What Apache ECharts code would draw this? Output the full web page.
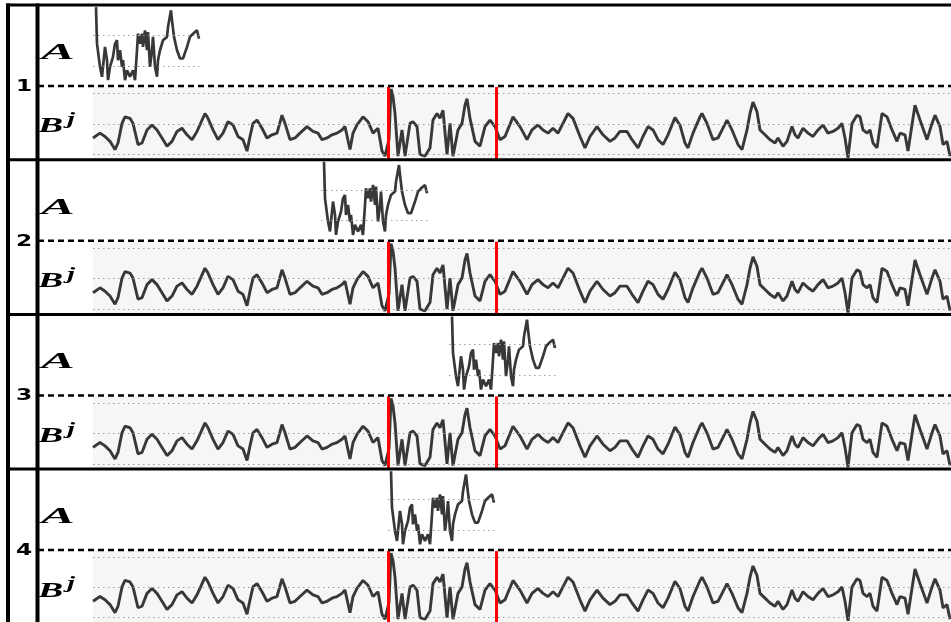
<!DOCTYPE html>
<html><head><meta charset="utf-8">
<script src="https://cdn.jsdelivr.net/npm/echarts@6/dist/echarts.min.js"></script>
<style>html,body{margin:0;padding:0;background:#fff;overflow:hidden}#c{width:951px;height:622px}</style>
</head><body><div id="c"></div>
<script>
// ---- data ----
const rowLabels = ['1', '2', '3', '4'];
const matchStart = [3, 231, 359, 298];      // where query A is placed along B (time index)
const matchWindow = [295.5, 403.5];         // red window on B^j
const bGuides = [-2, 0, 2];
const aGuides = [-1, 1];
const seriesLength = 858;
const queryLength = 104;

const bSeries = [
[0,-0.92],[7,-0.60],[12,-0.82],[17,-1.14],[22,-1.68],[25,-1.25],[29,0.04],[32,0.47],[37,0.37],[40,0.04],
[45,-1.35],[49,-1.25],[54,-0.39],[59,-0.06],[64,-0.39],[69,-0.92],[74,-1.46],[79,-1.14],[84,-0.49],[89,-0.28],
[94,-0.71],[99,-1.03],[104,-0.49],[112,0.69],[115,0.37],[120,-0.39],[125,-1.03],[130,-0.60],[135,0.15],[140,-0.06],
[145,-0.82],[150,-1.03],[154,-1.78],[157,-0.82],[160,0.04],[164,0.26],[169,-0.28],[174,-0.92],[179,-0.71],[184,-0.60],
[189,0.58],[192,0.04],[197,-1.03],[202,-0.92],[207,-0.60],[214,-0.17],[220,-0.49],[225,-0.60],[229,-1.03],[234,-0.92],
[239,-0.71],[244,-0.60],[249,-0.39],[252,-0.17],[257,-1.68],[260,-0.60],[264,-0.06],[270,0.47],[275,0.15],[280,-0.60],
[285,-0.28],[289,-1.78],[292,-2.11],[296,-1.00],[298,2.30],[300,1.80],[302,0.69],[305,-2.11],[309,-0.39],[312,-2.11],
[317,0.04],[320,0.15],[324,-0.17],[327,-2.00],[332,-2.11],[337,-1.57],[340,0.26],[344,0.69],[347,0.37],[350,0.90],
[354,-2.00],[357,0.04],[360,-2.11],[365,-0.39],[369,0.04],[372,1.23],[374,1.66],[377,0.37],[382,-1.14],[387,-1.46],
[392,-0.17],[397,0.26],[402,-0.17],[407,-1.03],[412,-0.82],[420,0.47],[427,-0.17],[434,-1.03],[439,-0.39],[445,-0.06],
[450,-0.39],[455,-0.60],[460,-0.28],[465,-0.60],[475,0.69],[480,0.37],[487,-0.82],[492,-1.57],[497,-0.82],[504,-0.17],
[510,-0.71],[517,-1.14],[522,-0.92],[527,-0.49],[534,-0.49],[539,-1.03],[545,-1.57],[550,-0.82],[555,-0.17],[560,-0.39],
[565,-1.03],[570,-1.35],[575,-0.71],[582,0.42],[587,-0.08],[592,-1.25],[595,-1.57],[600,-0.60],[607,0.47],[609,0.69],
[614,0.04],[620,-1.03],[625,-0.92],[634,0.26],[639,-0.39],[645,-1.35],[649,-1.68],[654,-0.39],[657,0.69],[660,1.44],
[664,0.80],[667,-0.39],[672,-0.71],[677,-1.03],[682,-1.25],[685,-0.92],[690,-1.46],[694,-1.14],[699,-0.17],[702,-0.71],
[705,-0.92],[710,-0.28],[715,-0.60],[720,-0.82],[725,-0.39],[730,-0.06],[735,-0.60],[740,-0.49],[745,-0.28],[749,0.04],
[752,-0.92],[755,-2.22],[759,0.04],[764,0.58],[767,0.47],[770,-0.39],[774,-0.60],[777,-0.39],[780,-1.25],[784,-1.57],
[789,0.69],[794,0.47],[799,-0.39],[804,-1.14],[807,-0.60],[812,-0.71],[815,-1.78],[822,1.23],[827,0.26],[834,-1.03],
[839,0.04],[842,0.58],[847,-0.17],[850,-1.35],[854,-1.14],[857,-2.11]
];

const aQuery = [
[0,2.83],[1,0.45],[4,-1.06],[6,-1.71],[7,-1.06],[9,0.24],[11,-0.63],[12,-1.93],[14,-1.06],[17,-0.41],
[19,0.45],[21,0.67],[22,-0.63],[24,0.02],[26,-1.06],[27,-0.63],[29,-1.93],[31,-1.28],[34,-1.71],[37,-1.28],
[39,-1.93],[41,0.02],[42,1.10],[44,0.45],[46,1.10],[47,0.24],[49,1.32],[51,0.02],[52,1.21],[54,-1.06],
[56,0.02],[57,0.89],[59,-1.06],[61,-1.71],[62,-0.63],[64,0.02],[67,0.67],[71,0.89],[72,1.53],[75,2.62],
[76,1.97],[78,0.89],[81,0.02],[84,-0.52],[87,-0.52],[91,0.24],[94,0.89],[97,1.10],[101,1.32],[103,0.78]
];

// ---- layout ----
const W = 951, rowTop0 = 5, rowStep = 154.7, plotLeft = 93;
const lineColor = '#383838';
const guideStyle = { color: '#9c9c9c', width: 1, type: [1.5, 3.5] };
const serif = '"Liberation Serif", "DejaVu Serif", serif';

const grids = [], xAxes = [], yAxes = [], series = [], graphics = [];

rowLabels.forEach((lab, r) => {
  const rt = rowTop0 + rowStep * r;
  const start = matchStart[r];
  grids.push({ left: plotLeft, width: seriesLength, top: rt + 1.5, height: 77.5, show: false });
  grids.push({ left: plotLeft, width: seriesLength, top: rt + 82, height: 72, show: true,
               backgroundColor: '#f6f6f6', borderWidth: 0 });
  const gA = 2 * r, gB = 2 * r + 1;
  [gA, gB].forEach(g => xAxes.push({ type: 'value', gridIndex: g, min: 0, max: seriesLength, show: false }));
  yAxes.push({ type: 'value', gridIndex: gA, min: -2.18, max: 2.87, show: false });
  yAxes.push({ type: 'value', gridIndex: gB, min: -2.3, max: 2.43, show: false });

  series.push({
    type: 'line', xAxisIndex: gA, yAxisIndex: gA, showSymbol: false, symbol: 'none',
    animation: false, lineStyle: { color: lineColor, width: 2.7 }, z: 3,
    data: aQuery.map(p => [p[0] + start, p[1]]),
    markLine: {
      symbol: 'none', silent: true, animation: false, label: { show: false },
      lineStyle: guideStyle,
      data: aGuides.map(v => [{ coord: [start - 3, v] }, { coord: [start + queryLength + 1, v] }])
    }
  });
  series.push({
    type: 'line', xAxisIndex: gB, yAxisIndex: gB, showSymbol: false, symbol: 'none',
    animation: false, lineStyle: { color: lineColor, width: 2.9 }, z: 3,
    data: bSeries,
    markLine: {
      symbol: 'none', silent: true, animation: false, label: { show: false },
      lineStyle: guideStyle,
      data: bGuides.map(v => ({ yAxis: v }))
        .concat(matchWindow.map(t => ({ xAxis: t, lineStyle: { color: '#ff0000', width: 3, type: 'solid' } })))
    }
  });

  const dashY = rt + 81;
  graphics.push({ type: 'line', z: 100, shape: { x1: 38, y1: dashY, x2: W, y2: dashY },
                  style: { stroke: '#000', lineWidth: 2.5, lineDash: [6, 4] } });
  if (r > 0) {
    graphics.push({ type: 'line', z: 100, shape: { x1: 6, y1: rt, x2: W, y2: rt },
                    style: { stroke: '#000', lineWidth: 3 } });
  }
  graphics.push({ type: 'text', z: 100, x: 24, y: dashY + 1, scaleX: 1.55,
                  style: { text: lab, font: 'bold 15px "DejaVu Sans", sans-serif', fill: '#000',
                           align: 'center', verticalAlign: 'middle', textAlign: 'center', textVerticalAlign: 'middle' } });
  graphics.push({ type: 'text', z: 100, x: 41, y: rt + 48, scaleX: 2.2,
                  style: { text: 'A', font: 'italic bold 23px ' + serif, fill: '#000',
                           align: 'left', verticalAlign: 'middle', textAlign: 'left', textVerticalAlign: 'middle' } });
  graphics.push({ type: 'text', z: 100, x: 38, y: rt + 122, scaleX: 1.8,
                  style: { text: 'B', font: 'italic bold 21px ' + serif, fill: '#000',
                           align: 'left', verticalAlign: 'middle', textAlign: 'left', textVerticalAlign: 'middle' } });
  graphics.push({ type: 'text', z: 100, x: 67, y: rt + 115, scaleX: 1.8,
                  style: { text: 'j', font: 'italic bold 16px ' + serif, fill: '#000',
                           align: 'left', verticalAlign: 'middle', textAlign: 'left', textVerticalAlign: 'middle' } });
});

graphics.push({ type: 'line', z: 101, shape: { x1: 6, y1: 5, x2: W, y2: 5 }, style: { stroke: '#000', lineWidth: 3 } });
graphics.push({ type: 'line', z: 101, shape: { x1: 8, y1: 3.5, x2: 8, y2: 622 }, style: { stroke: '#000', lineWidth: 4 } });
graphics.push({ type: 'line', z: 101, shape: { x1: 37.5, y1: 3.5, x2: 37.5, y2: 622 }, style: { stroke: '#000', lineWidth: 4 } });

const chart = echarts.init(document.getElementById('c'), null, { renderer: 'canvas' });
chart.setOption({
  animation: false,
  grid: grids, xAxis: xAxes, yAxis: yAxes, series: series,
  graphic: { elements: graphics }
});
</script>
</body></html>
